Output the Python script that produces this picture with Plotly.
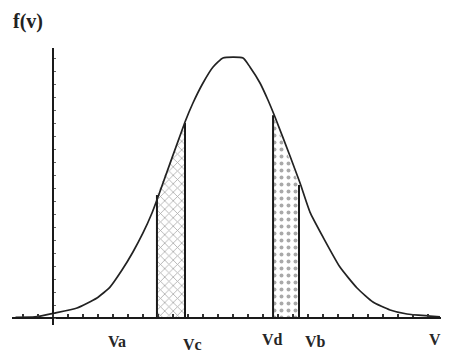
import plotly.graph_objects as go

# curve (v in tick units, f in tick units)
curve_v = [-2.5, -1.2, 0.13, 1.6, 2.93, 3.8, 4.6, 5.33, 6.0, 6.6, 7.0, 8.8, 9.33, 10.0, 10.67,
           11.33, 12.67, 13.13, 13.8, 14.33, 14.8, 15.8, 16.47, 17.13, 18.0, 19.13, 20.27,
           21.33, 22.47, 23.6, 25.13, 25.8]
curve_f = [0.05, 0.08, 0.38, 0.77, 1.54, 2.38, 3.69, 5.08, 6.54, 8.08, 9.31, 15.08, 16.54, 18.08,
           19.31, 20.0, 20.0, 19.31, 18.08, 16.77, 15.46, 12.46, 10.38, 8.15, 6.23, 3.92, 2.31,
           1.23, 0.62, 0.31, 0.15, 0.08]

# shaded strips: edges and heights at the edges
strip1_v = [6.93, 8.8]
strip1_f = [9.46, 15.0]
strip2_v = [14.67, 16.4]
strip2_f = [15.6, 10.23]

# axis labels
label_text = ["Va", "Vc", "Vd", "Vb", "V"]
label_v = [4.27, 9.27, 14.6, 17.47, 25.47]
label_y = [-0.061, -0.072, -0.054, -0.061, -0.054]

fig = go.Figure()

def strip(vs, fs, shape, size):
    fig.add_trace(go.Scatter(
        x=[vs[0], vs[0], vs[1], vs[1], vs[0]],
        y=[0, fs[0], fs[1], 0, 0],
        mode="lines", fill="toself",
        fillcolor="rgba(255,255,255,0)",
        fillpattern=dict(shape=shape, fgcolor="#707070", bgcolor="rgba(255,255,255,0)",
                         size=size, solidity=0.25, fgopacity=0.6),
        line=dict(width=0),
        hoverinfo="skip", showlegend=False))
    fig.add_trace(go.Scatter(
        x=[vs[0], vs[0], None, vs[1], vs[1]],
        y=[0, fs[0], None, 0, fs[1]],
        mode="lines", line=dict(color="#1a1a1a", width=2),
        hoverinfo="skip", showlegend=False))

strip(strip1_v, strip1_f, "x", 6)
strip(strip2_v, strip2_f, ".", 7)

fig.add_trace(go.Scatter(x=curve_v, y=curve_f, mode="lines",
                         line=dict(color="#222222", width=1.7, shape="spline", smoothing=0.5),
                         showlegend=False, hoverinfo="skip"))

for t, v, y in zip(label_text, label_v, label_y):
    fig.add_annotation(x=v, xref="x", y=y, yref="paper", text="<b>" + t + "</b>",
                       showarrow=False,
                       font=dict(family="Liberation Serif", size=16, color="#262626"),
                       xanchor="center", yanchor="middle")

fig.add_annotation(x=0.036, xref="paper", y=1.094, yref="paper", text="<b>f(v)</b>",
                   showarrow=False, font=dict(family="Liberation Serif", size=20, color="#222222"),
                   xanchor="center", yanchor="middle")

# the page body has an 8px margin, so the figure is 8px smaller and shifted
fig.update_layout(
    width=441, height=345,
    margin=dict(l=4, r=0, t=40, b=28),
    paper_bgcolor="white", plot_bgcolor="white",
    xaxis=dict(range=[-2.733, 26.4], showgrid=False, zeroline=False, showline=True,
               linecolor="#1a1a1a", linewidth=1.6, ticks="inside", ticklen=3, tickwidth=1.5,
               tickcolor="#333333", tick0=0, dtick=1, showticklabels=False,
               anchor="free", position=7 / 277),
    yaxis=dict(range=[-0.538, 20.77], showgrid=False, zeroline=False, showline=True,
               linecolor="#1a1a1a", linewidth=1.6, ticks="inside", ticklen=2, tickwidth=1.2,
               tickcolor="#666666", tick0=0, dtick=1, showticklabels=False,
               anchor="free", position=41 / 437),
)

fig.write_html("out.html")
